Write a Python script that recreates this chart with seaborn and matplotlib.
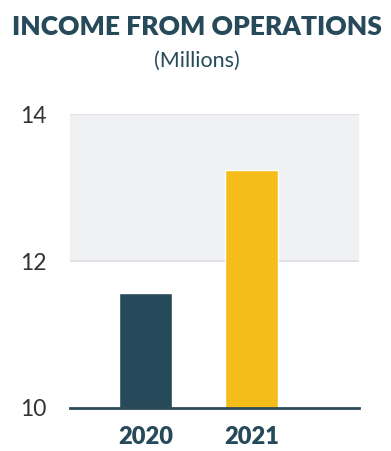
import matplotlib
matplotlib.use("Agg")
import matplotlib.pyplot as plt
import seaborn as sns
import pandas as pd

years = ["2020", "2021"]
income = [11.56, 13.24]
bar_colors = ["#264a5a", "#f5bd1a"]
yticks = [10, 12, 14]

df = pd.DataFrame({"year": years, "income": income})

sns.set_style("white")
plt.rcParams['font.family'] = ['Lato', 'DejaVu Sans']

fig = plt.figure(figsize=(3.91, 4.51), dpi=100)
ax = fig.add_axes([70/391, 43/451, (359-70)/391, (408-114.3)/451])

ax.axhspan(12, 14, color="#f0f1f3", zorder=0, lw=0)
for y in [12, 14]:
    ax.axhline(y, color="#dcdde0", lw=1.2, zorder=1)

sns.barplot(data=df, x="year", y="income", hue="year", palette=bar_colors,
            width=0.5, legend=False, ax=ax, zorder=2, saturation=1)

ax.set_ylim(10, 14)
ax.set_xlim(-0.71, 2.01)
ax.set_yticks(yticks)
ax.set_yticklabels([str(t) for t in yticks], fontsize=16.5, color="#333333",
                   fontweight="normal")
ax.tick_params(axis="y", length=0, pad=17)
ax.tick_params(axis="x", length=0, pad=13)
for lbl in ax.get_xticklabels():
    lbl.set_fontsize(17)
    lbl.set_fontweight("heavy")
    lbl.set_color("#264a5a")
ax.set_xlabel("")
ax.set_ylabel("")
for s in ["top", "right", "left"]:
    ax.spines[s].set_visible(False)
ax.spines["bottom"].set_color("#2e4a58")
ax.spines["bottom"].set_linewidth(2)
ax.spines["bottom"].set_zorder(3)

fig.text(197/391, 1 - 27/451, "INCOME FROM OPERATIONS", ha="center", va="center",
         fontsize=19, fontweight="heavy", color="#264a5a")
fig.text(197/391, 1 - 61/451, "(Millions)", ha="center", va="center",
         fontsize=15.5, color="#264a5a")

fig.savefig("out.png", dpi=100)
